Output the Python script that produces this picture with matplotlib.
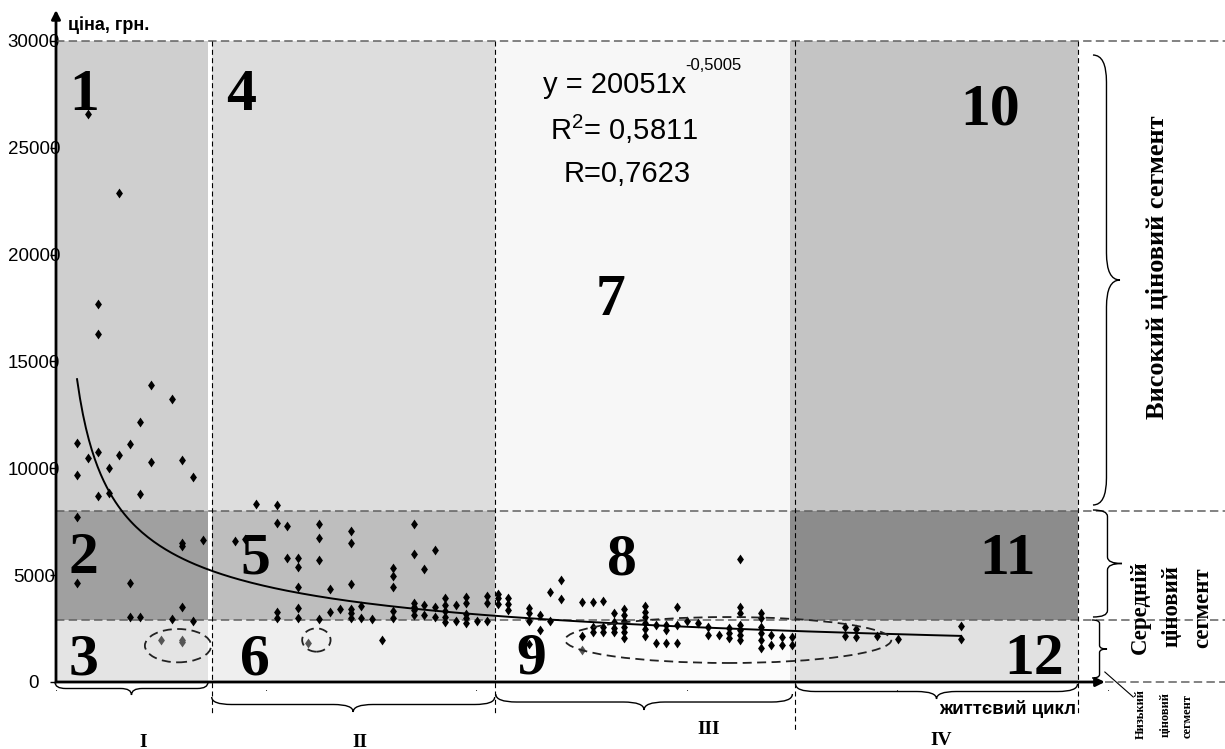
import numpy as np
import matplotlib
matplotlib.use('Agg')
import matplotlib.pyplot as plt
from matplotlib.patches import Rectangle, Ellipse, PathPatch
from matplotlib.path import Path

plt.rcParams['font.family'] = ['Liberation Sans', 'DejaVu Sans']
plt.rcParams['mathtext.fontset'] = 'custom'
plt.rcParams['mathtext.rm'] = 'Liberation Sans'

# products: life-cycle position (x) and price, грн (y)
x_main = [2, 2, 2, 2, 3, 3, 4, 4, 4, 4, 5, 5, 6, 6, 7, 7, 7, 8, 8, 8, 9, 9, 11, 11,
          12, 12, 12, 12, 13, 13, 14,
          17, 18, 19, 21, 21, 21, 21, 22, 22, 23, 23, 23, 23, 23, 25, 25, 25, 25,
          26, 26, 27, 28, 28, 28, 28, 28, 28, 29, 29, 30, 31, 32, 32, 32, 32, 32,
          34, 34, 34, 34, 34, 34, 35, 35, 35, 36, 36, 36, 37, 37, 37, 37, 37,
          38, 38, 39, 39, 39, 39, 39, 40, 41, 41, 41,
          42, 42, 42, 43, 43, 43, 45, 45, 45, 45, 46, 46, 47, 47, 48, 48, 50, 50,
          51, 51, 51, 52, 52, 52, 53, 53, 53, 53, 54, 54, 54, 54, 54, 54,
          56, 56, 56, 56, 56, 56, 57, 57, 58, 58, 58, 59, 59, 59, 60, 61, 62, 62,
          63, 64, 64, 64, 65, 65, 65, 65, 65, 65, 65, 67, 67, 67, 67, 67, 67,
          68, 68, 69, 69, 70, 70,
          75, 75, 76, 76, 78, 80, 86, 86]
y_main = [11200, 9700, 7700, 4650, 26600, 10500, 17670, 16270, 10780, 8720, 10000, 8860,
          22870, 10620, 11150, 4650, 3040, 12170, 8800, 3040, 13900, 10310, 13240, 2930,
          10370, 6500, 6350, 3500, 9610, 2870, 6660,
          6610, 6680, 8340, 8280, 7460, 3290, 3010, 7320, 5790, 5790, 5400, 4460, 3450, 3010,
          7390, 6750, 5720, 2950, 4340, 3290, 3400, 7060, 6500, 4570, 3400, 3240, 3000,
          3560, 3000, 2930, 1950, 5350, 4960, 4450, 3320, 3000,
          7390, 6000, 3680, 3520, 3370, 3120, 5290, 3600, 3120, 6180, 3520, 3040,
          3920, 3600, 3340, 3060, 2820, 3600, 2850, 3990, 3680, 3170, 2980, 2750, 2850,
          4020, 3700, 2850,
          4120, 3920, 3650, 3920, 3650, 3370, 3450, 3210, 2870, 1780, 3140, 2430,
          4200, 2870, 4770, 3870, 3760, 2150, 3760, 2590, 2350, 3800, 2590, 2350,
          3210, 2820, 2510, 2350, 3420, 3140, 2870, 2590, 2350, 2040,
          3560, 3290, 3030, 2750, 2470, 2150, 2670, 1840, 2670, 2430, 1840,
          3500, 2670, 1840, 2870, 2750, 2590, 2200, 2200, 2510, 2280, 2040,
          5740, 3500, 3210, 2670, 2430, 2200, 1970, 3240, 2980, 2590, 2280, 1970, 1580,
          2200, 1730, 2120, 1730, 2120, 1730,
          2560, 2170, 2480, 2090, 2170, 2010, 2630, 2010]
# circled (atypical) products
x_odd = [10, 12, 12, 24, 50]
y_odd = [1980, 1950, 1870, 1840, 1500]

# power trend y = a * x^b
trend_a = 20051
trend_b = -0.5005

# segments: life-cycle stages (columns) and price levels (rows)
col_edges = [(0, 14.45), (14.83, 41.73), (41.73, 69.8), (69.8, 97.15)]
row_edges = [(8000, 30000), (2900, 8000), (0, 2900)]
cell_colors = [['#cfcfcf', '#a0a0a0', '#e4e4e4'],
               ['#dddddd', '#bebebe', '#efefef'],
               ['#f7f7f7', '#f3f3f3', '#fbfbfb'],
               ['#c4c4c4', '#8c8c8c', '#e1e1e1']]
stage_lines = [14.83, 41.73, 70.25, 97.15]
stage_line_ends = [-1544, -1544, -2246, -1498]
level_lines = [30000, 8000, 2900]

cell_numbers = ['1', '2', '3', '4', '5', '6', '7', '8', '9', '10', '11', '12']
number_x = [2.66, 2.57, 2.57, 17.59, 18.92, 18.92, 52.76, 53.8, 45.15, 88.8, 90.4, 92.97]
number_y = [26770, 5087, 328, 26770, 5087, 328, 17176, 5054, 421, 26114, 5054, 374]

stage_names = ['I', 'II', 'III', 'IV']
stage_name_x = [8.27, 28.9, 62.07, 84.13]
stage_name_y = [-3060, -3060, -2434, -2948]
stage_braces = [(-0.1, 14.45, 0, -608), (14.8, 41.7, -702, -702),
                (41.8, 70.0, -562, -749), (70.3, 97.1, -94, -702)]
level_braces = [(8284, 29344, 98.57, 2.57), (3042, 8050, 98.57, 2.76), (187, 2902, 98.48, 1.43)]


def brace(ax, a0, a1, base, depth, vertical=False, r=0.07):
    m = (a0 + a1) / 2
    k = r * (a1 - a0)
    h = base + depth / 2
    t = base + depth
    pts = [(a0, base), (a0, h), (a0 + k, h), (m - k, h), (m, h), (m, t),
           (m, h), (m + k, h), (a1 - k, h), (a1, h), (a1, base)]
    codes = [Path.MOVETO, Path.CURVE3, Path.CURVE3, Path.LINETO, Path.CURVE3, Path.CURVE3,
             Path.CURVE3, Path.CURVE3, Path.LINETO, Path.CURVE3, Path.CURVE3]
    if vertical:
        pts = [(b, a) for a, b in pts]
    ax.add_patch(PathPatch(Path(pts, codes), fill=False, lw=1, ec='black', clip_on=False, zorder=5))


fig = plt.figure(figsize=(12.25, 7.49), dpi=100)
ax = fig.add_axes([56 / 1225, 67 / 749, 1052 / 1225, 641 / 749])
ax.set_xlim(0, 100)
ax.set_ylim(0, 30000)
for s in ax.spines.values():
    s.set_visible(False)

# shaded cells
for (c0, c1), colors in zip(col_edges, cell_colors):
    for (r0, r1), col in zip(row_edges, colors):
        ax.add_patch(Rectangle((c0, r0), c1 - c0, r1 - r0, fc=col, ec='none', zorder=0))

# segment borders
for lv in level_lines:
    ax.plot([0, 111.2], [lv, lv], color='#606060', lw=1.1, ls=(0, (5.5, 2.8)), clip_on=False, zorder=2)
ax.plot([99.7, 111.2], [0, 0], color='#606060', lw=1.1, ls=(0, (5.5, 2.8)), clip_on=False, zorder=2)
for sx, se in zip(stage_lines, stage_line_ends):
    ax.plot([sx, sx], [30000, se], color='black', lw=0.8, ls=(0, (4.5, 3)), clip_on=False, zorder=2)

# data
diamond = [(0, 1), (0.7, 0), (0, -1), (-0.7, 0), (0, 1)]
ax.scatter(x_main, y_main, marker=diamond, s=50, c='black', lw=0, zorder=4)
ax.scatter(x_odd, y_odd, marker=diamond, s=50, c='#555555', lw=0, zorder=4)

xt = np.linspace(min(x_main), max(x_main), 300)
ax.plot(xt, trend_a * xt ** trend_b, color='black', lw=1.4, zorder=3)

# circled groups
ell_kw = dict(fill=False, ec='#222222', lw=1.3, ls=(0, (5, 3)), zorder=5)
ax.add_patch(Ellipse((11.6, 1700), 6.3, 1560, **ell_kw))
ax.add_patch(Ellipse((24.75, 1965), 2.7, 1090, **ell_kw))
ax.add_patch(Ellipse((63.9, 1965), 31, 2150, **ell_kw))

# axes with arrows
arr = dict(arrowstyle='-|>', mutation_scale=13, lw=2, color='black', shrinkA=0, shrinkB=0)
ax.annotate('', xy=(0, 31450), xytext=(0, 0), arrowprops=arr, annotation_clip=False, zorder=6)
ax.annotate('', xy=(99.7, 0), xytext=(0, 0), arrowprops=arr, annotation_clip=False, zorder=6)

ax.set_yticks(range(0, 30001, 5000))
ax.set_yticklabels([str(v) for v in range(0, 30001, 5000)], fontsize=13.5, ha='center')
ax.tick_params(axis='y', length=4, width=1, pad=12)
ax.set_xticks(range(0, 101, 20))
ax.set_xticklabels(['.'] * 6, fontsize=8)
ax.tick_params(axis='x', length=0, pad=1)

ax.text(1.14, 30514, 'ціна, грн.', fontsize=13, fontweight='bold', va='baseline', clip_on=False)
ax.text(90.5, -1498, 'життєвий цикл', fontsize=13.5, fontweight='bold', ha='center',
        va='baseline', clip_on=False)

# cell numbers
for lab, nx, ny in zip(cell_numbers, number_x, number_y):
    ax.text(nx, ny, lab, family='Liberation Serif', fontweight='bold', fontsize=43,
            ha='center', va='baseline', zorder=7)

# trend equation
ax.text(59.9, 27579, 'y = 20051x', fontsize=21, ha='right', va='baseline', zorder=7)
ax.text(59.8, 28642, '-0,5005', fontsize=12, ha='left', va='baseline', zorder=7)
ax.text(53.99, 25366, r'R$^{\mathregular{2}}$= 0,5811', fontsize=21, ha='center', va='baseline', zorder=7)
ax.text(54.33, 23414, 'R=0,7623', fontsize=21, ha='center', va='baseline', zorder=7)

# life-cycle stages
for (a0, a1, b, d) in stage_braces:
    brace(ax, a0, a1, b, d)
for nm, sx, sy in zip(stage_names, stage_name_x, stage_name_y):
    ax.text(sx, sy, nm, family='Liberation Serif', fontweight='bold', fontsize=14,
            ha='center', va='baseline', clip_on=False)

# price segments
for (a0, a1, b, d) in level_braces:
    brace(ax, a0, a1, b, d, vertical=True, r=0.06)
serif_b = dict(family='Liberation Serif', fontweight='bold', rotation=90,
               ha='center', va='center', clip_on=False)
ax.text(104.65, 19422, 'Високий ціновий сегмент', fontsize=19, **serif_b)
ax.text(103.04, 3510, 'Середній', fontsize=16.5, **serif_b)
ax.text(106.08, 3557, 'ціновий', fontsize=16.5, **serif_b)
ax.text(109.03, 3463, 'сегмент', fontsize=16.5, **serif_b)
ax.text(103.14, -1498, 'Низький', fontsize=9, **serif_b)
ax.text(105.5, -1544, 'ціновий', fontsize=9, **serif_b)
ax.text(107.6, -1591, 'сегмент', fontsize=9, **serif_b)
ax.plot([99.7, 102.4], [468, -702], color='black', lw=0.8, clip_on=False)

fig.savefig('out.png', dpi=100, facecolor='white')
